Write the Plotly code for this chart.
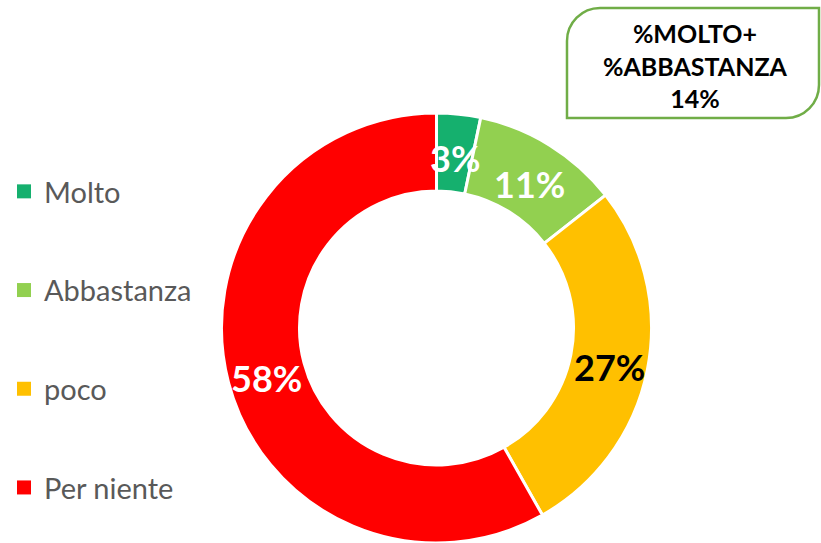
import math
import plotly.graph_objects as go

categories = ["Molto", "Abbastanza", "poco", "Per niente"]
values = [3.3, 11.1, 27.4, 58.2]
labels = ["3%", "11%", "27%", "58%"]
colors = ["#15B06E", "#92D050", "#FFC000", "#FF0000"]
text_colors = ["white", "white", "black", "white"]
box_lines = ["%MOLTO+", "%ABBASTANZA", "14%"]

W, H = 821, 543
CX, CY, R_OUT, R_IN = 436.5, 328, 215, 137


def paper(x, y):
    return x / W, 1 - y / H


def px(x, y):
    # pixel -> paper coords as path string
    a, b = paper(x, y)
    return f"{a:.5f},{b:.5f}"


fig = go.Figure()

fig.add_trace(go.Pie(
    labels=categories,
    values=values,
    marker=dict(colors=colors, line=dict(color="white", width=3)),
    hole=R_IN / R_OUT,
    sort=False,
    direction="clockwise",
    rotation=0,
    textinfo="none",
    showlegend=False,
    domain=dict(x=[(CX - R_OUT) / W, (CX + R_OUT) / W], y=[0, 2 * R_OUT / H]),
))

# percentage labels in the middle of the ring, at each slice's mid angle
total = sum(values)
cum = 0
r_mid = (R_OUT + R_IN) / 2
for lab, v, tc in zip(labels, values, text_colors):
    ang = 2 * math.pi * (cum + v / 2) / total
    cum += v
    lx, ly = paper(CX + r_mid * math.sin(ang), CY - r_mid * math.cos(ang))
    fig.add_annotation(
        x=lx, y=ly, xref="paper", yref="paper", text=lab, showarrow=False,
        xanchor="center", yanchor="middle", yshift=-5,
        font=dict(family="Lato", size=36, color=tc, weight="bold"),
    )

# legend entries (dummy traces so the item spacing can be set)
for name, col in zip(categories, colors):
    fig.add_trace(go.Scatter(
        x=[None], y=[None], mode="markers", name=name, legendgroup=name,
        marker=dict(symbol="square", size=14, color=col),
    ))

# rounded-diagonal box top right
x0, x1, y0, y1, r = 567, 819, 8, 118, 33
k = 0.5523 * r
path = (f"M {px(x0, y0 + r)} C {px(x0, y0 + r - k)} {px(x0 + r - k, y0)} {px(x0 + r, y0)} "
        f"L {px(x1, y0)} L {px(x1, y1 - r)} "
        f"C {px(x1, y1 - r + k)} {px(x1 - r + k, y1)} {px(x1 - r, y1)} "
        f"L {px(x0, y1)} Z")
fig.add_shape(type="path", path=path, xref="paper", yref="paper",
              line=dict(color="#70AD47", width=2.5), fillcolor="white")

bx, by = paper(695, 65)
fig.add_annotation(
    x=bx, y=by, xref="paper", yref="paper",
    text="<br>".join(box_lines),
    showarrow=False, align="center", xanchor="center", yanchor="middle",
    font=dict(family="Lato", size=25, color="black", weight="bold"),
)

fig.update_layout(
    width=W, height=H,
    margin=dict(l=0, r=0, t=0, b=0),
    paper_bgcolor="white", plot_bgcolor="white",
    xaxis=dict(visible=False), yaxis=dict(visible=False),
    legend=dict(
        x=4 / W, xanchor="left", y=1 - 166 / H, yanchor="top",
        font=dict(family="Lato", size=29, color="#595959"),
        tracegroupgap=58, itemsizing="trace", bgcolor="rgba(0,0,0,0)",
    ),
)

fig.write_html("out.html", config={"displayModeBar": False},
               post_script="document.body.style.margin='0px';")
